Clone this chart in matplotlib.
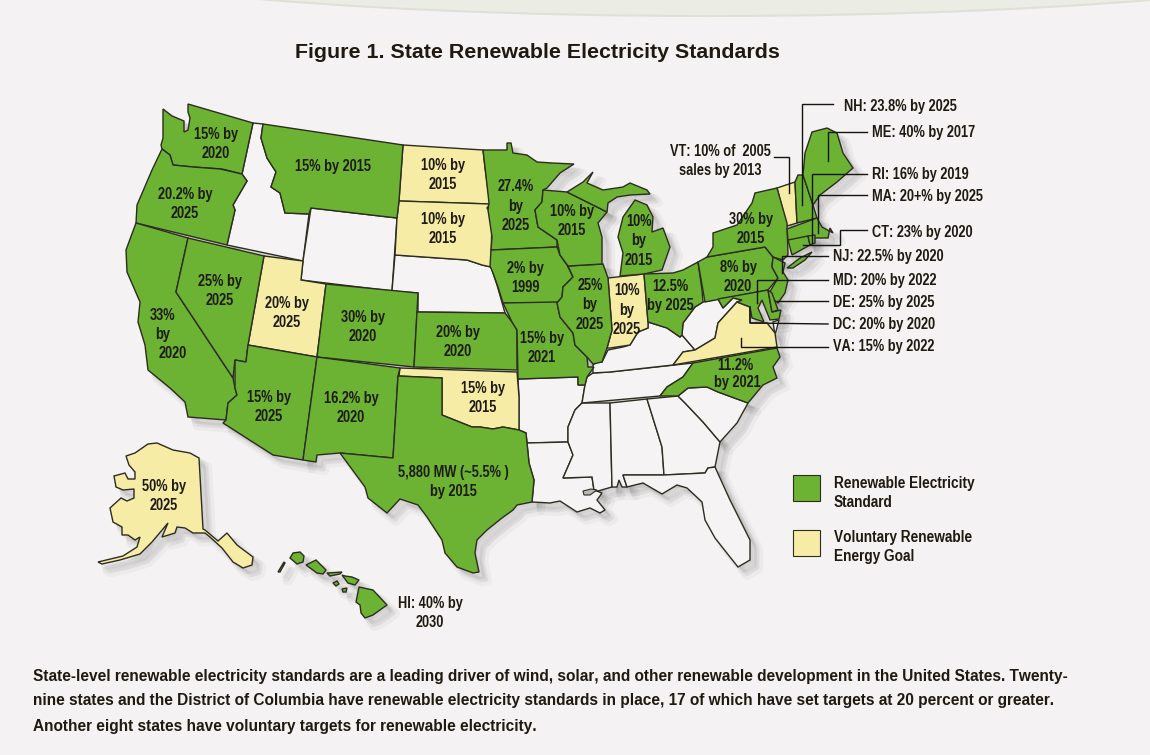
import matplotlib
matplotlib.use('Agg')
import matplotlib.pyplot as plt
from matplotlib import font_manager
from matplotlib.font_manager import FontProperties
from matplotlib.patches import Polygon, Ellipse, Rectangle
from fontTools.ttLib import TTFont

GREEN = '#6cb233'
YELLOW = '#f6eca6'
WHITE = '#f5f3f3'
BG = '#f4f2f2'
INK = '#1e1a12'
EDGE = '#2c2c20'

# state outlines in pixels
WA = [(188,104),(253,123),(242,174),(222,169),(193,167),(173,165),(170,155),(162,149),(161,145),(163,138),(163,109),(172,116),(184,121),(184,132),(188,130),(190,118),(188,112)]
OR = [(162,149),(170,155),(173,165),(193,167),(220,169),(242,174),(247,181),(233,205),(235,210),(227,245),(136,223),(137,205),(152,170)]
CA = [(136,223),(188,238),(176,292),(233,378),(235,388),(237,395),(228,403),(226,420),(188,417),(185,402),(170,388),(148,370),(145,345),(138,322),(140,302),(127,272),(126,250)]
NV = [(188,238),(264,256),(248,345),(246,362),(235,360),(233,378),(176,292)]
ID = [(253,123),(263,124),(261,138),(267,158),(276,172),(271,187),(280,193),(285,213),(309,214),(303,261),(227,245),(235,210),(233,205),(247,181),(242,174)]
MT = [(263,124),(403,145),(399,201),(397,218),(311,208),(309,214),(285,213),(280,193),(271,187),(276,172),(267,158),(261,138)]
WY = [(311,208),(397,218),(392,291),(301,280),(303,261)]
UT = [(264,256),(303,261),(301,280),(326,284),(317,357),(248,345)]
CO = [(326,284),(418,293),(417,312),(414,367),(317,357)]
AZ = [(248,345),(317,357),(303,460),(273,455),(223,423),(226,420),(228,403),(237,395),(235,388),(235,360),(246,362)]
NM = [(317,357),(400,368),(398,376),(393,458),(340,453),(317,455),(316,462),(303,460)]
TX = [(398,376),(442,378),(442,415),(457,421),(472,427),(480,427),(493,429),(503,427),(519,430),(526,433),(527,443),(529,463),(534,480),(532,502),(517,505),(513,510),(502,518),(487,530),(477,540),(475,553),(479,572),(473,573),(457,567),(445,553),(442,540),(427,517),(418,505),(400,499),(387,513),(368,498),(365,487),(340,453),(393,458)]
OK = [(400,368),(517,372),(519,397),(519,430),(503,427),(493,429),(480,427),(472,427),(457,421),(442,415),(442,378),(399,376)]
ND = [(403,145),(483,150),(485,168),(490,204),(399,201)]
SD = [(399,201),(490,204),(487,208),(492,215),(491,267),(482,265),(467,260),(395,255),(397,218)]
NE = [(395,255),(467,260),(482,265),(491,267),(497,285),(505,313),(418,312),(418,293),(392,291)]
KS = [(417,312),(505,313),(512,322),(517,330),(517,370),(414,367)]
MN = [(483,150),(507,150),(507,143),(511,143),(513,153),(527,155),(537,162),(552,163),(574,164),(560,173),(547,188),(543,190),(542,202),(535,210),(538,227),(557,240),(557,247),(491,250),(492,237),(488,210),(489,203),(485,167)]
IA = [(491,250),(557,247),(560,255),(567,265),(573,277),(563,287),(562,297),(557,303),(503,303),(498,287),(493,273),(490,266)]
MO = [(503,303),(557,302),(560,317),(573,333),(575,345),(587,357),(588,367),(594,367),(587,377),(585,385),(578,385),(578,377),(518,379),(517,330),(512,322)]
AR = [(518,379),(578,377),(578,385),(585,385),(582,403),(575,410),(568,427),(568,442),(527,443),(526,433),(519,430),(519,397)]
LA = [(527,443),(568,442),(573,455),(563,478),(592,477),(594,490),(602,493),(597,500),(605,510),(600,513),(590,508),(577,512),(560,501),(550,503),(532,502),(534,480),(529,463)]
PONTCHARTRAIN = [(583,491),(591,489),(597,490),(590,495),(584,495)]
MS = [(582,403),(610,403),(612,487),(598,491),(594,490),(592,477),(563,478),(573,455),(568,442),(568,427),(575,410)]
AL = [(610,403),(647,399),(662,447),(664,475),(623,475),(627,487),(622,487),(619,480),(617,487),(612,487)]
GA = [(647,399),(678,396),(685,403),(703,422),(720,442),(715,467),(708,468),(705,473),(664,475),(662,447)]
FL = [(623,475),(664,475),(705,473),(708,468),(715,467),(730,500),(750,540),(750,560),(738,567),(730,557),(715,538),(705,520),(702,502),(687,488),(677,485),(662,494),(643,483),(627,487)]
SC = [(678,396),(688,388),(707,387),(718,392),(748,403),(737,423),(720,442),(703,422),(685,403)]
NC = [(693,363),(777,348),(780,357),(773,367),(777,378),(763,385),(748,403),(718,392),(707,387),(688,388),(678,396),(660,396),(667,387),(683,377)]
TN = [(593,373),(610,372),(693,363),(683,377),(667,387),(660,396),(582,403),(585,385),(587,377)]
KY = [(593,365),(597,362),(602,362),(608,350),(623,347),(630,345),(638,332),(648,328),(648,322),(667,328),(680,337),(682,335),(695,350),(683,352),(673,365),(610,372),(593,373)]
VA = [(673,365),(683,352),(695,350),(715,338),(718,323),(737,302),(750,307),(750,323),(767,323),(775,333),(777,347)]
WV = [(703,302),(718,299),(723,308),(733,298),(742,300),(737,302),(718,323),(715,338),(695,350),(682,335),(683,323),(695,307)]
OH = [(644,274),(673,273),(683,270),(698,262),(702,290),(703,302),(695,307),(683,323),(682,335),(680,337),(667,328),(648,322)]
IN = [(608,278),(617,277),(644,274),(648,322),(648,328),(638,332),(630,345),(610,348),(607,348),(612,330)]
IL = [(568,266),(603,264),(608,278),(612,330),(607,348),(602,362),(593,364),(587,357),(575,345),(573,333),(560,317),(557,303),(562,297),(563,287),(573,277)]
WI = [(543,190),(567,192),(587,202),(597,207),(607,212),(598,223),(602,237),(602,264),(568,266),(560,255),(557,240),(538,227),(535,210),(542,202)]
MI_UPPER = [(567,192),(583,182),(593,172),(587,183),(603,190),(623,187),(630,183),(647,190),(650,194),(630,195),(617,197),(608,203),(607,212),(597,207),(587,202)]
MI_LOWER = [(635,200),(647,205),(653,217),(652,232),(663,228),(670,247),(662,270),(644,274),(620,276),(623,253),(618,237),(623,217)]
PA = [(698,262),(707,257),(765,247),(773,257),(772,267),(778,278),(768,290),(705,302)]
NY = [(707,257),(713,247),(713,233),(737,225),(752,203),(755,193),(777,188),(787,223),(788,255),(783,260),(773,257),(765,247)]
LONG_ISLAND = [(787,268),(800,258),(812,252),(805,260),(793,268)]
VT = [(777,188),(795,182),(797,223),(787,226)]
NH = [(795,182),(798,175),(803,175),(813,205),(817,218),(797,223)]
ME = [(803,175),(805,153),(812,132),(827,128),(837,133),(843,153),(853,168),(837,182),(820,195),(813,205)]
MA = [(787,229),(817,218),(822,227),(833,233),(830,228),(828,238),(817,238),(788,240)]
CT = [(788,240),(808,236),(810,245),(792,255)]
RI = [(808,236),(815,235),(815,243),(810,245)]
NJ = [(773,257),(785,263),(783,272),(788,280),(785,293),(778,303),(768,295),(778,278),(772,267)]
MD = [(718,299),(768,290),(772,312),(781,310),(779,319),(770,320),(762,300),(758,308),(764,322),(752,318),(750,307),(737,302),(742,300),(733,298),(723,308)]
DE = [(768,290),(772,293),(778,310),(772,312)]
VA_SHORE = [(773,322),(779,320),(775,335)]
AK = [(157,443),(148,444),(135,453),(126,456),(129,465),(135,472),(135,479),(128,479),(125,473),(114,476),(116,487),(123,490),(134,489),(134,498),(127,501),(121,498),(110,508),(113,522),(122,527),(122,535),(128,535),(135,540),(140,537),(137,547),(123,556),(98,562),(102,564),(120,560),(140,554),(152,542),(168,523),(162,537),(175,533),(177,527),(185,528),(193,533),(205,533),(210,537),(222,548),(233,562),(243,568),(252,565),(253,557),(237,545),(227,533),(218,541),(205,530),(203,529),(199,458),(190,453),(173,450)]
KAUAI = [(290,558),(293,553),(300,552),(304,556),(303,562),(297,564)]
NIIHAU = [(278,572),(284,562),(285,563),(280,572)]
OAHU = [(306,565),(316,560),(326,570),(323,574),(317,573)]
MOLOKAI = [(327,573),(342,572),(340,574),(330,576)]
MAUI = [(342,575),(345,576),(352,577),(359,580),(355,585),(348,583)]
LANAI = [(333,583),(337,581),(339,584),(336,586)]
KAHOOLAWE = [(342,589),(347,588),(346,592),(343,592)]
BIG_ISLAND = [(359,587),(373,590),(387,605),(373,615),(365,618),(361,613),(360,605),(356,602)]

standard_states = [WA, OR, CA, NV, MT, CO, AZ, NM, TX, KS, MN, IA, MO, IL, WI, MI_UPPER, MI_LOWER, OH, PA, NY, NH, ME,
                   MA, CT, RI, NJ, MD, DE, NC, LONG_ISLAND, KAUAI, NIIHAU, OAHU, MOLOKAI, MAUI, LANAI, KAHOOLAWE, BIG_ISLAND]
voluntary_states = [UT, OK, ND, SD, IN, VA, VT, AK]
other_states = [ID, WY, NE, AR, LA, MS, AL, GA, FL, SC, TN, KY, WV, VA_SHORE]

# text on the states: x, y, label
state_labels = [
    (216, 144, '15% by\n2020'), (185, 204, '20.2% by\n2025'), (163, 316, '33%'), (163, 335, 'by'), (173, 353, '2020'),
    (220, 291, '25% by\n2025'), (333, 166, '15% by 2015'), (443, 175, '10% by\n2015'), (443, 229, '10% by\n2015'),
    (287, 313, '20% by\n2025'), (363, 327, '30% by\n2020'), (458, 342, '20% by\n2020'), (269, 407, '15% by\n2025'),
    (351, 408, '16.2% by\n2020'), (483, 398, '15% by\n2015'), (453, 482, '5,880 MW (~5.5% )\nby 2015'),
    (516, 206, '27.4%\nby\n2025'), (572, 221, '10% by\n2015'), (525, 278, '2% by\n1999'), (590, 305, '25%\nby\n2025'),
    (542, 348, '15% by\n2021'), (627, 310, '10%\nby\n2025'), (639, 241, '10%\nby\n2015'), (670, 296, '12.5%\nby 2025'),
    (738, 277, '8% by\n2020'), (751, 229, '30% by\n2015'), (735, 366, '11.2%'), (737, 382, 'by 2021'),
    (164, 496, '50% by\n2025'), (430, 613, 'HI: 40% by\n2030'), (720, 161, 'VT: 10% of  2005\nsales by 2013'),
]
callout_labels = [
    (844, 106, 'NH: 23.8% by 2025'), (872, 133, 'ME: 40% by 2017'), (872, 174, 'RI: 16% by 2019'),
    (872, 196, 'MA: 20+% by 2025'), (872, 233, 'CT: 23% by 2020'), (833, 257, 'NJ: 22.5% by 2020'),
    (833, 280, 'MD: 20% by 2022'), (833, 303, 'DE: 25% by 2025'), (833, 325, 'DC: 20% by 2020'),
    (833, 347, 'VA: 15% by 2022'),
]
leaders = [
    [(833,104),(802,104),(802,205)], [(867,132),(828,132),(828,161)], [(774,157),(789,157),(789,193)],
    [(867,174),(812,174),(812,243)], [(867,195),(818,195),(818,233)], [(867,230),(840,230),(840,245),(803,245)],
    [(828,256),(782,256),(782,273)], [(828,280),(757,280),(757,303)], [(828,301),(777,301)],
    [(828,324),(750,323),(750,307)], [(828,347),(741,347),(741,338)],
]
paragraph = [
    'State-level renewable electricity standards are a leading driver of wind, solar, and other renewable development in the United States. Twenty-',
    'nine states and the District of Columbia have renewable electricity standards in place, 17 of which have set targets at 20 percent or greater.',
    'Another eight states have voluntary targets for renewable electricity.',
]


def narrow_font(path, scale, out_name):
    # no condensed face is installed, so squeeze Liberation Sans Bold sideways
    font = TTFont(path)
    glyf = font['glyf']
    for name in font.getGlyphOrder():
        glyph = glyf[name]
        if glyph.isComposite():
            for comp in glyph.components:
                comp.x = int(comp.x * scale)
        elif glyph.numberOfContours > 0:
            glyph.coordinates.scale((scale, 1))
            glyph.recalcBounds(glyf)
    hmtx = font['hmtx']
    for name, (adv, lsb) in list(hmtx.metrics.items()):
        hmtx[name] = (int(adv * scale), int(lsb * scale))
    for tag in ('hdmx', 'VDMX', 'LTSH', 'kern', 'GPOS'):
        if tag in font:
            del font[tag]
    font.save(out_name)
    return out_name


bold_path = font_manager.findfont(FontProperties(family='Liberation Sans', weight='bold'))
font_08 = narrow_font(bold_path, 0.8, 'narrow80.ttf')
font_09 = narrow_font(bold_path, 0.9, 'narrow90.ttf')
label_fp = FontProperties(fname=font_08, size=11.5)
legend_fp = FontProperties(fname=font_08, size=12.3)
para_fp = FontProperties(fname=font_09, size=12.3)

fig = plt.figure(figsize=(11.5, 7.55), dpi=100, facecolor=BG)
ax = fig.add_axes([0, 0, 1, 1])
ax.set_xlim(0, 1150)
ax.set_ylim(755, 0)
ax.axis('off')

ax.add_patch(Ellipse((710, -60), 1434, 152, facecolor='#ebece4', edgecolor='#dfe0d6', lw=1.5))

all_states = standard_states + voluntary_states + other_states

# soft shadow to the lower right of the land
for off, width in [(9, 6), (7, 4), (5, 2), (3, 0)]:
    for pts in all_states:
        ax.add_patch(Polygon([(x + off, y + off) for x, y in pts], closed=True, facecolor='#000000',
                             edgecolor='#000000', lw=width, alpha=0.03, joinstyle='round'))

for pts in other_states:
    ax.add_patch(Polygon(pts, closed=True, facecolor=WHITE, edgecolor=EDGE, lw=1.0))
for pts in voluntary_states:
    ax.add_patch(Polygon(pts, closed=True, facecolor=YELLOW, edgecolor=EDGE, lw=1.0))
for pts in standard_states:
    ax.add_patch(Polygon(pts, closed=True, facecolor=GREEN, edgecolor=EDGE, lw=1.0))
ax.add_patch(Polygon(PONTCHARTRAIN, closed=True, facecolor='#b9b8b8', edgecolor=EDGE, lw=0.8))

for x, y, s in state_labels:
    ax.text(x, y, s, fontproperties=label_fp, color=INK, ha='center', va='center', linespacing=1.35)
for x, y, s in callout_labels:
    ax.text(x, y, s, fontproperties=label_fp, color=INK, ha='left', va='center')
for line in leaders:
    ax.plot([p[0] for p in line], [p[1] for p in line], color='#15140f', lw=1.0, solid_joinstyle='miter')

ax.add_patch(Rectangle((793, 475), 27, 26, facecolor=GREEN, edgecolor=EDGE, lw=0.8))
ax.add_patch(Rectangle((793, 530), 27, 26, facecolor=YELLOW, edgecolor=EDGE, lw=0.8))
ax.text(834, 493, 'Renewable Electricity\nStandard', fontproperties=legend_fp, color=INK, va='center', linespacing=1.28)
ax.text(834, 547, 'Voluntary Renewable\nEnergy Goal', fontproperties=legend_fp, color=INK, va='center', linespacing=1.28)

ax.text(295, 52, 'Figure 1. State Renewable Electricity Standards', family='Liberation Sans', fontsize=15.4,
        fontweight='bold', color=INK, ha='left', va='center')

for y, line in zip([676, 701, 726], paragraph):
    ax.text(33, y, line, fontproperties=para_fp, color=INK, ha='left', va='center')

fig.savefig('out.png', dpi=100, facecolor=BG)
